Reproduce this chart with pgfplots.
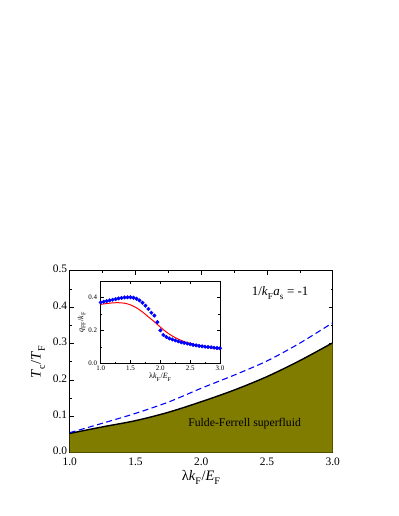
\documentclass[border=0pt]{standalone}
\usepackage{fontspec}
\setmainfont{Liberation Serif}
\usepackage{pgfplots}
\pgfplotsset{compat=1.18}
\definecolor{ffolive}{RGB}{128,124,0}
\newcommand{\sub}[1]{\textsubscript{\raisebox{-0.45ex}{#1}}}

\begin{document}
\begin{tikzpicture}
\path[use as bounding box] (0,0) rectangle (399bp,516bp);

% main panel
\begin{axis}[
  at={(69.7bp,63.3bp)}, anchor=south west,
  scale only axis, width=263bp, height=182bp,
  xmin=1, xmax=3, ymin=0, ymax=0.5,
  xtick={1,1.5,2,2.5,3}, ytick={0,0.1,0.2,0.3,0.4,0.5},
  minor x tick num=1, minor y tick num=1,
  tick align=inside, major tick length=4bp, minor tick length=2bp,
  axis line style={line width=0.7pt}, every tick/.style={black, line width=0.6pt},
  /pgf/number format/.cd, fixed, fixed zerofill, precision=1, assume math mode=true,
  /pgfplots/.cd,
  tick label style={font=\fontsize{11.5}{13}\selectfont},
  xticklabel style={yshift=-1.5bp},
  yticklabel style={xshift=1bp, yshift=1.5bp},
  xlabel={λ\textit{k}\sub{F}/\textit{E}\sub{F}},
  ylabel={\textit{T}\sub{c}/\textit{T}\sub{F}},
  label style={font=\fontsize{14.5}{16}\selectfont},
  xlabel style={at={(axis description cs:0.5,-0.135)}, anchor=center},
  ylabel style={at={(axis description cs:-0.12,0.5)}, anchor=center},
]
\addplot[fill=ffolive, draw=none, smooth] coordinates {
  (1.0,0.053)(1.25,0.071)(1.5,0.088)(1.75,0.111)(2.0,0.140)
  (2.25,0.172)(2.5,0.209)(2.75,0.253)(3.0,0.302)} \closedcycle;
\addplot[black, line width=1.4pt, smooth] coordinates {
  (1.0,0.053)(1.25,0.071)(1.5,0.088)(1.75,0.111)(2.0,0.140)
  (2.25,0.172)(2.5,0.209)(2.75,0.253)(3.0,0.302)};
\addplot[blue, line width=1.1pt, dash pattern=on 6bp off 3.5bp, smooth] coordinates {
  (1.0,0.055)(1.25,0.081)(1.5,0.108)(1.75,0.139)(2.0,0.177)
  (2.25,0.213)(2.5,0.252)(2.75,0.301)(3.0,0.357)};
\node[font=\fontsize{11.8}{13}\selectfont] at (axis cs:2.33,0.081) {Fulde-Ferrell superfluid};
\node[font=\fontsize{13}{15}\selectfont] at (axis cs:2.60,0.438)
  {1/\textit{k}\sub{F}\textit{a}\sub{s} = -1};
\end{axis}

% inset
\begin{axis}[
  at={(100.7bp,152.7bp)}, anchor=south west,
  scale only axis, width=119.3bp, height=82.3bp,
  axis background/.style={fill=white},
  xmin=1, xmax=3, ymin=0, ymax=0.5,
  xtick={1,1.5,2,2.5,3}, ytick={0,0.2,0.4},
  minor x tick num=1, minor y tick num=1,
  tick align=inside, major tick length=3bp, minor tick length=1.5bp,
  axis line style={line width=0.6pt}, every tick/.style={black, line width=0.5pt},
  /pgf/number format/.cd, fixed, fixed zerofill, precision=1, assume math mode=true,
  /pgfplots/.cd,
  tick label style={font=\fontsize{7}{8}\selectfont},
  xticklabel style={yshift=1bp},
  xlabel={λ\textit{k}\sub{F}/\textit{E}\sub{F}},
  ylabel={\textit{q}\sub{FF}/\textit{k}\sub{F}},
  label style={font=\fontsize{8}{9}\selectfont},
  xlabel style={at={(axis description cs:0.5,-0.17)}, anchor=center},
  ylabel style={at={(axis description cs:-0.16,0.5)}, anchor=center},
]
\addplot[blue, only marks, mark=*, mark size=1.8bp] coordinates {
  (1.00,0.370)(1.05,0.374)(1.10,0.378)(1.15,0.382)(1.20,0.386)
  (1.25,0.390)(1.30,0.394)(1.35,0.397)(1.40,0.400)(1.45,0.401)
  (1.50,0.401)(1.55,0.398)(1.60,0.392)(1.65,0.382)(1.70,0.368)
  (1.75,0.350)(1.80,0.330)(1.85,0.307)(1.90,0.290)(1.95,0.250)
  (2.00,0.200)(2.05,0.172)(2.10,0.160)(2.15,0.151)(2.20,0.145)
  (2.25,0.139)(2.30,0.133)(2.35,0.128)(2.40,0.124)(2.45,0.120)
  (2.50,0.116)(2.55,0.112)(2.60,0.109)(2.65,0.106)(2.70,0.103)
  (2.75,0.101)(2.80,0.099)(2.85,0.097)(2.90,0.095)(2.95,0.093)
  (3.00,0.091)};
\addplot[red, line width=1.0pt, smooth] coordinates {
  (1.0,0.358)(1.1,0.363)(1.2,0.367)(1.3,0.368)(1.4,0.365)
  (1.5,0.355)(1.6,0.337)(1.7,0.312)(1.8,0.282)(1.9,0.252)
  (2.0,0.220)(2.1,0.190)(2.2,0.166)(2.3,0.147)(2.4,0.132)
  (2.5,0.121)(2.6,0.111)(2.7,0.104)(2.8,0.097)(2.9,0.091)
  (3.0,0.086)};
\end{axis}
\end{tikzpicture}
\end{document}
